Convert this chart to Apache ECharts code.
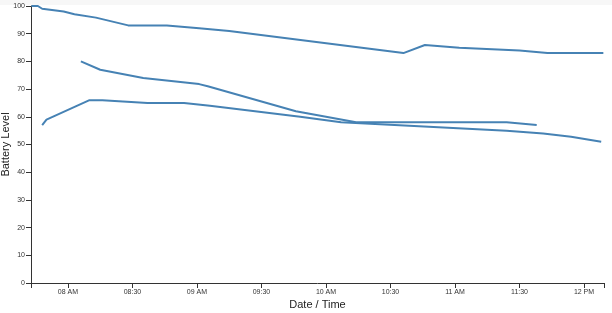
<!DOCTYPE html>
<html>
<head>
<meta charset="utf-8">
<script src="https://cdn.jsdelivr.net/npm/echarts@6/dist/echarts.min.js"></script>
<style>
html,body{margin:0;padding:0;background:#fff;}
#chart{width:612px;height:313px;}
</style>
</head>
<body>
<div id="chart"></div>
<script>
// ---- data ----
var timesA = ["07:43","07:46","07:48","07:58","08:03","08:13","08:28","08:46","09:01","09:15","10:36","10:46","11:02","11:30","11:43","12:09"];
var valuesA = [100,100,99,98,97,95.8,93,93,92,91,83,85.9,84.9,83.9,83,83];

var timesB = ["08:06","08:15","08:35","09:01","09:05","09:46","10:14","11:24","11:38"];
var valuesB = [80,77,74,71.8,71,62,58,58,57];

var timesC = ["07:48","07:50","08:10","08:16","08:37","08:54","09:06","09:48","10:07","11:24","11:41","11:54","12:08"];
var valuesC = [57,59,66,66,65,65,64,60,58,55,54,52.8,51];

var xTickTimes = ["08:00","08:30","09:00","09:30","10:00","10:30","11:00","11:30","12:00"];
var xTickLabels = ["08 AM","08:30","09 AM","09:30","10 AM","10:30","11 AM","11:30","12 PM"];
var xStart = "07:42.8";
var xEnd = "12:09.3";

// ---- helpers ----
function toMin(s){ var p = s.split(":"); return parseInt(p[0],10)*60 + parseFloat(p[1]); }
function pairs(ts, vs){ return ts.map(function(t,i){ return [toMin(t), vs[i]]; }); }
var tickVals = xTickTimes.map(toMin);
var xMin = toMin(xStart), xMax = toMin(xEnd);

var lineStyle = {color:"#4682b4", width:2};
function mk(name, ts, vs){
  return {name:name, type:"line", data:pairs(ts,vs), showSymbol:false, symbol:"none",
          lineStyle:lineStyle, itemStyle:{color:"#4682b4"}, animation:false};
}

var chart = echarts.init(document.getElementById("chart"), null, {renderer:"canvas"});
chart.setOption({
  animation:false,
  backgroundColor:"#ffffff",
  graphic:[{type:"rect", shape:{x:0,y:0,width:612,height:5}, style:{fill:"#f7f7f7"}, z:-10}],
  grid:{left:31, right:8, top:6, bottom:30, containLabel:false, outerBoundsMode:"none"},
  xAxis:{
    type:"value", min:xMin, max:xMax,
    name:"Date / Time", nameLocation:"middle", nameGap:16, nameMoveOverlap:false,
    nameTextStyle:{fontFamily:"Liberation Sans", fontSize:11, color:"#222"},
    axisLine:{show:true, onZero:false, lineStyle:{color:"#333", width:1}},
    axisTick:{show:true, length:5, lineStyle:{color:"#333"}, customValues:[xMin].concat(tickVals).concat([xMax])},
    axisLabel:{show:true, customValues:tickVals, margin:6, fontFamily:"Liberation Sans", fontSize:7, color:"#333",
      formatter:function(v){ var i = tickVals.indexOf(v); return i>=0 ? xTickLabels[i] : ""; }},
    splitLine:{show:false}
  },
  yAxis:{
    type:"value", min:0, max:100, interval:10,
    name:"Battery Level", nameLocation:"middle", nameGap:20, nameRotate:90, nameMoveOverlap:false,
    nameTextStyle:{fontFamily:"Liberation Sans", fontSize:11, color:"#222"},
    axisLine:{show:true, lineStyle:{color:"#333", width:1}},
    axisTick:{show:true, length:5, lineStyle:{color:"#333"}},
    axisLabel:{margin:6, fontFamily:"Liberation Sans", fontSize:7, color:"#333"},
    splitLine:{show:false}
  },
  series:[mk("A",timesA,valuesA), mk("B",timesB,valuesB), mk("C",timesC,valuesC)]
});
</script>
</body>
</html>
